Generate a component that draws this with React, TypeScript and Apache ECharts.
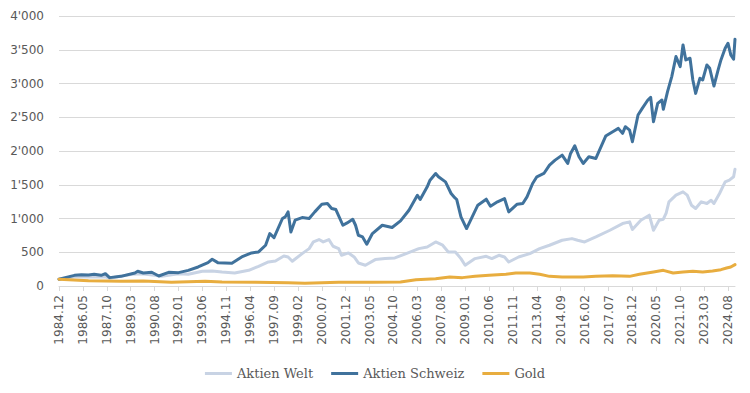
import React, { useEffect, useRef } from "react";
import * as echarts from "echarts";

// Monthly categories 1984.12 … 2025.01
const startYear = 1984;
const startMonth = 12;
const monthCount = 482;
const categories: string[] = [];
for (let i = 0; i < monthCount; i++) {
  const t = startMonth - 1 + i;
  const y = startYear + Math.floor(t / 12);
  const m = (t % 12) + 1;
  categories.push(`${y}.${m < 10 ? "0" + m : m}`);
}

const yTicks = [0, 500, 1000, 1500, 2000, 2500, 3000, 3500, 4000];

const aktienWelt: [string, number][] = [
  ["1984.12", 100], ["1985.11", 133], ["1987.01", 135], ["1987.09", 135], ["1987.12", 115],
  ["1989.04", 173], ["1989.11", 183], ["1990.08", 158], ["1991.01", 143], ["1992.01", 183],
  ["1992.08", 173], ["1993.06", 218], ["1994.01", 223], ["1994.08", 208], ["1995.05", 193],
  ["1996.03", 232], ["1996.10", 292], ["1997.05", 356], ["1997.10", 371], ["1998.04", 445],
  ["1998.07", 430], ["1998.10", 366], ["1999.05", 480], ["1999.10", 554], ["2000.01", 653],
  ["2000.05", 688], ["2000.08", 653], ["2000.12", 688], ["2001.03", 589], ["2001.07", 554],
  ["2001.09", 455], ["2002.02", 490], ["2002.06", 430], ["2002.09", 341], ["2003.02", 307],
  ["2003.09", 391], ["2004.04", 406], ["2004.11", 416], ["2005.07", 480], ["2006.04", 554],
  ["2006.10", 579], ["2007.04", 653], ["2007.09", 604], ["2008.01", 505], ["2008.06", 505],
  ["2008.10", 406], ["2009.01", 307], ["2009.08", 406], ["2010.04", 440], ["2010.08", 406],
  ["2011.01", 455], ["2011.05", 430], ["2011.08", 356], ["2012.03", 430], ["2012.11", 480],
  ["2013.06", 554], ["2014.01", 604], ["2014.10", 678], ["2015.05", 702], ["2015.09", 678],
  ["2016.02", 653], ["2016.10", 727], ["2017.08", 826], ["2018.05", 925], ["2018.10", 950],
  ["2018.12", 836], ["2019.06", 975], ["2019.12", 1049], ["2020.03", 826], ["2020.07", 975],
  ["2020.10", 990], ["2020.12", 1080], ["2021.02", 1247], ["2021.07", 1346], ["2021.12", 1395],
  ["2022.03", 1346], ["2022.06", 1197], ["2022.09", 1148], ["2023.01", 1247], ["2023.05", 1222],
  ["2023.08", 1271], ["2023.10", 1222], ["2024.02", 1370], ["2024.06", 1543], ["2024.09", 1568],
  ["2024.12", 1618], ["2025.01", 1731],
];

const aktienSchweiz: [string, number][] = [
  ["1984.12", 100], ["1985.11", 158], ["1986.04", 165], ["1986.09", 163], ["1987.01", 173],
  ["1987.06", 158], ["1987.09", 183], ["1987.12", 124], ["1988.08", 143], ["1989.06", 193],
  ["1989.08", 218], ["1989.12", 193], ["1990.06", 203], ["1990.11", 148], ["1991.06", 203],
  ["1992.01", 198], ["1992.08", 232], ["1993.03", 282], ["1993.10", 346], ["1994.01", 396],
  ["1994.05", 346], ["1995.03", 336], ["1995.10", 430], ["1996.05", 490], ["1996.10", 505],
  ["1997.03", 604], ["1997.06", 777], ["1997.09", 717], ["1998.03", 1000], ["1998.05", 1024],
  ["1998.07", 1098], ["1998.09", 801], ["1998.12", 975], ["1999.05", 1014], ["1999.10", 1000],
  ["2000.02", 1098], ["2000.07", 1212], ["2000.11", 1222], ["2001.02", 1148], ["2001.05", 1133],
  ["2001.10", 900], ["2002.01", 935], ["2002.05", 989], ["2002.07", 900], ["2002.09", 752],
  ["2002.12", 727], ["2003.03", 618], ["2003.07", 777], ["2004.02", 900], ["2004.09", 866],
  ["2005.03", 965], ["2005.09", 1123], ["2006.03", 1345], ["2006.05", 1281], ["2006.10", 1469],
  ["2006.12", 1568], ["2007.04", 1667], ["2007.06", 1618], ["2007.11", 1543], ["2008.03", 1370],
  ["2008.05", 1321], ["2008.07", 1281], ["2008.10", 1024], ["2009.02", 851], ["2009.06", 1024],
  ["2009.10", 1197], ["2010.04", 1286], ["2010.07", 1182], ["2010.12", 1247], ["2011.05", 1296],
  ["2011.08", 1098], ["2012.02", 1212], ["2012.06", 1222], ["2012.09", 1321], ["2013.01", 1519],
  ["2013.04", 1618], ["2013.09", 1667], ["2014.01", 1791], ["2014.05", 1865], ["2014.10", 1939],
  ["2015.02", 1816], ["2015.04", 1964], ["2015.07", 2078], ["2015.10", 1914], ["2016.01", 1816],
  ["2016.05", 1914], ["2016.10", 1890], ["2017.05", 2221], ["2017.10", 2286], ["2018.02", 2335],
  ["2018.05", 2261], ["2018.07", 2360], ["2018.10", 2310], ["2018.12", 2137], ["2019.04", 2533],
  ["2019.07", 2632], ["2019.11", 2756], ["2020.01", 2795], ["2020.03", 2434], ["2020.06", 2706],
  ["2020.09", 2756], ["2020.10", 2617], ["2021.01", 2879], ["2021.04", 3102], ["2021.07", 3399],
  ["2021.10", 3250], ["2021.12", 3572], ["2022.02", 3349], ["2022.05", 3374], ["2022.07", 3052],
  ["2022.09", 2854], ["2022.12", 3077], ["2023.02", 3052], ["2023.05", 3275], ["2023.07", 3225],
  ["2023.10", 2963], ["2024.01", 3201], ["2024.03", 3349], ["2024.06", 3522], ["2024.08", 3597],
  ["2024.10", 3423], ["2024.12", 3359], ["2025.01", 3656],
];

const gold: [string, number][] = [
  ["1984.12", 100], ["1986.09", 79], ["1988.08", 69], ["1989.12", 74], ["1991.08", 54],
  ["1993.08", 69], ["1994.08", 59], ["1996.08", 54], ["1998.07", 49], ["1999.07", 40],
  ["2001.07", 54], ["2003.07", 54], ["2005.03", 59], ["2006.02", 94], ["2007.04", 109],
  ["2008.02", 134], ["2008.11", 124], ["2009.08", 143], ["2010.06", 158], ["2011.06", 173],
  ["2012.01", 193], ["2012.11", 193], ["2013.06", 173], ["2014.01", 143], ["2014.10", 134],
  ["2016.01", 134], ["2016.10", 143], ["2017.10", 153], ["2018.10", 143], ["2019.05", 173],
  ["2020.03", 208], ["2020.10", 232], ["2021.05", 193], ["2021.12", 208], ["2022.07", 218],
  ["2023.02", 208], ["2023.09", 223], ["2024.03", 242], ["2024.07", 267], ["2024.10", 282],
  ["2025.01", 317],
];

const seriesNames = ["Aktien Welt", "Aktien Schweiz", "Gold"];
const seriesColors = ["#c8d3e4", "#40729c", "#e8ad3f"];

const toPoints = (arr: [string, number][]) =>
  arr.map(([d, v]) => [categories.indexOf(d), v]);

const fmt = (v: number) => {
  const s = String(Math.round(v));
  return s.length > 3 ? s.slice(0, s.length - 3) + "'" + s.slice(s.length - 3) : s;
};

export default function App() {
  const ref = useRef<HTMLDivElement>(null);
  useEffect(() => {
    if (!ref.current) return;
    const chart = echarts.init(ref.current, undefined, { renderer: "svg" });
    const dataSets = [aktienWelt, aktienSchweiz, gold];
    chart.setOption({
      animation: false,
      backgroundColor: "#ffffff",
      grid: { left: 59, right: 15, top: 16, bottom: 107, containLabel: false },
      legend: {
        data: seriesNames,
        left: "center",
        top: 362,
        icon: "rect",
        itemWidth: 27,
        itemHeight: 3,
        itemGap: 18,
        textStyle: { fontFamily: "DejaVu Serif", fontSize: 13, color: "#595959" },
      },
      xAxis: {
        type: "category",
        data: categories,
        boundaryGap: false,
        axisLine: { lineStyle: { color: "#d9d9d9", width: 1 } },
        axisTick: { interval: 16, length: 5, lineStyle: { color: "#d9d9d9" } },
        axisLabel: {
          interval: 16,
          rotate: 90,
          margin: 9,
          fontFamily: "DejaVu Sans",
          fontSize: 12,
          color: "#595959",
        },
        splitLine: { show: false },
      },
      yAxis: {
        type: "value",
        min: yTicks[0],
        max: yTicks[yTicks.length - 1],
        interval: 500,
        axisLine: { show: false },
        axisTick: { show: false },
        axisLabel: {
          margin: 15,
          fontFamily: "DejaVu Sans",
          fontSize: 12,
          color: "#595959",
          formatter: (v: number) => fmt(v),
        },
        splitLine: { lineStyle: { color: "#d9d9d9", width: 1 } },
      },
      series: dataSets.map((d, i) => ({
        name: seriesNames[i],
        type: "line",
        data: toPoints(d),
        showSymbol: false,
        symbol: "none",
        color: seriesColors[i],
        lineStyle: { width: 3, color: seriesColors[i], cap: "round", join: "round" },
      })),
    });
    return () => chart.dispose();
  }, []);
  return (
    <div
      ref={ref}
      style={{
        position: "absolute",
        left: 0,
        top: 0,
        width: 750,
        height: 393,
        outline: "1px solid #d9d9d9",
        outlineOffset: -1,
      }}
    />
  );
}
